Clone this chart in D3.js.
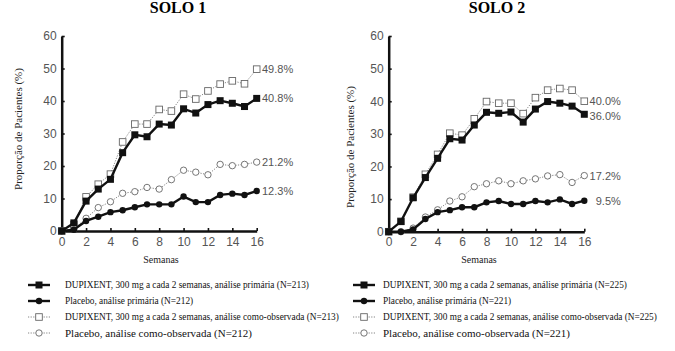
<!DOCTYPE html>
<html>
<head>
<meta charset="utf-8">
<script src="https://cdn.jsdelivr.net/npm/d3@7"></script>
<style>
  body { margin: 0; background: #fff; }
  svg { display: block; }
  .tick text { font-family: "Liberation Sans", Arial, sans-serif; font-size: 12px; fill: #555; }
  .title { font-family: "Liberation Serif", "Times New Roman", serif; font-weight: bold; font-size: 16px; }
  .axis-label { font-family: "Liberation Serif", "Times New Roman", serif; font-size: 11px; fill: #222; }
  .end-label { font-family: "Liberation Sans", Arial, sans-serif; font-size: 11px; fill: #555; }
  .legend-text { font-family: "Liberation Serif", "Times New Roman", serif; font-size: 9.3px; fill: #111; }
</style>
</head>
<body>
<div id="chart"></div>
<script>
var weeks = [0, 1, 2, 3, 4, 5, 6, 7, 8, 9, 10, 11, 12, 13, 14, 15, 16];
var xTicks = [0, 2, 4, 6, 8, 10, 12, 14, 16];
var yTicks = [0, 10, 20, 30, 40, 50, 60];

var solo1DupiPrimary  = [0, 2.5, 9.2, 12.9, 15.9, 24.1, 29.6, 29.0, 32.9, 32.6, 37.6, 36.3, 38.9, 40.1, 39.3, 38.3, 40.8];
var solo1PlacPrimary  = [0, 0.4, 3.1, 4.4, 5.8, 6.4, 7.3, 8.2, 8.2, 8.2, 10.6, 8.9, 8.9, 11.1, 11.5, 11.1, 12.3];
var solo1DupiObserved = [0, 2.0, 10.5, 14.4, 17.5, 27.4, 32.9, 32.9, 37.4, 36.9, 42.1, 40.6, 43.1, 45.2, 46.2, 45.3, 49.8];
var solo1PlacObserved = [0, 0.6, 3.9, 7.2, 9.0, 11.6, 12.1, 13.4, 12.9, 15.8, 18.7, 18.1, 17.3, 20.5, 20.1, 20.5, 21.2];

var solo2DupiPrimary  = [0, 3.1, 10.4, 16.6, 22.5, 28.5, 28.1, 32.7, 36.6, 36.3, 36.7, 33.6, 37.6, 39.9, 39.4, 38.5, 36.0];
var solo2PlacPrimary  = [0, 0, 0.7, 3.9, 6.0, 6.6, 7.5, 7.5, 9.0, 9.4, 8.5, 8.5, 9.4, 9.0, 9.9, 8.5, 9.5];
var solo2DupiObserved = [0, 3.2, 10.6, 17.6, 23.7, 30.2, 29.6, 34.6, 39.9, 39.4, 39.4, 36.2, 41.1, 43.4, 43.9, 43.4, 40.0];
var solo2PlacObserved = [0, 0, 1.1, 4.5, 6.7, 9.4, 10.7, 13.8, 14.7, 15.6, 14.7, 15.6, 16.2, 17.1, 17.5, 15.1, 17.2];

var solo1Legend = [
  "DUPIXENT, 300 mg a cada 2 semanas, análise primária (N=213)",
  "Placebo, análise primária (N=212)",
  "DUPIXENT, 300 mg a cada 2 semanas, análise como-observada (N=213)",
  "Placebo, análise como-observada (N=212)"
];
var solo2Legend = [
  "DUPIXENT, 300 mg a cada 2 semanas, análise primária (N=225)",
  "Placebo, análise primária (N=221)",
  "DUPIXENT, 300 mg a cada 2 semanas, análise como-observada (N=225)",
  "Placebo, análise como-observada (N=221)"
];

var width = 675, height = 351;

var svg = d3.select("#chart").append("svg")
  .attr("width", width)
  .attr("height", height);

// kind 0 = dupi primary, 1 = placebo primary, 2 = dupi observed, 3 = placebo observed
function drawMarker(g, kind, x, y) {
  if (kind === 0) {
    g.append("rect").attr("x", x - 3.5).attr("y", y - 3.5).attr("width", 7).attr("height", 7)
      .attr("fill", "#111");
  } else if (kind === 1) {
    g.append("circle").attr("cx", x).attr("cy", y).attr("r", 3.2).attr("fill", "#111");
  } else if (kind === 2) {
    g.append("rect").attr("x", x - 3.3).attr("y", y - 3.3).attr("width", 6.6).attr("height", 6.6)
      .attr("fill", "#fff").attr("stroke", "#666").attr("stroke-width", 0.9);
  } else {
    g.append("circle").attr("cx", x).attr("cy", y).attr("r", 3.2)
      .attr("fill", "#fff").attr("stroke", "#666").attr("stroke-width", 0.9);
  }
}

function lineStyle(sel, kind) {
  if (kind < 2) {
    sel.attr("stroke", "#111").attr("stroke-width", 2.4);
  } else {
    sel.attr("stroke", "#777").attr("stroke-width", 0.9).attr("stroke-dasharray", "1.2,1.4");
  }
  return sel;
}

function panel(cfg) {
  var x = d3.scaleLinear().domain([0, 16]).range([cfg.left, cfg.right]);
  var y = d3.scaleLinear().domain([0, 60]).range([cfg.bottom, cfg.top]);
  var g = svg.append("g");

  g.append("text").attr("class", "title")
    .attr("x", cfg.titleX).attr("y", 13)
    .attr("text-anchor", "middle")
    .text(cfg.title);

  var yAxis = g.append("g")
    .attr("transform", "translate(" + cfg.left + ",0)")
    .call(d3.axisLeft(y).tickValues(yTicks).tickSizeInner(-3).tickSizeOuter(0).tickPadding(5));
  yAxis.select(".domain").attr("stroke", "#111").attr("stroke-width", 2.5);
  yAxis.selectAll(".tick line").attr("stroke", "#111").attr("stroke-width", 1.6);

  var xAxis = g.append("g")
    .attr("transform", "translate(0," + cfg.bottom + ")")
    .call(d3.axisBottom(x).tickValues(xTicks).tickSizeInner(-3).tickSizeOuter(0).tickPadding(6));
  xAxis.select(".domain").attr("stroke", "#111").attr("stroke-width", 2.5);
  xAxis.selectAll(".tick line").attr("stroke", "#111").attr("stroke-width", 1.6);

  g.append("text").attr("class", "axis-label")
    .attr("transform", "translate(" + cfg.yLabelX + "," + cfg.yLabelY + ") rotate(-90)")
    .attr("text-anchor", "middle")
    .attr("dy", "0.35em")
    .text("Proporção de Pacientes (%)");

  g.append("text").attr("class", "axis-label")
    .attr("x", cfg.xLabelX).attr("y", 263)
    .attr("text-anchor", "middle")
    .style("font-size", "10px")
    .text("Semanas");

  var line = d3.line()
    .x(function (d, i) { return x(weeks[i]); })
    .y(function (d) { return y(d); });

  // as-observed first, primary on top
  [3, 2, 1, 0].forEach(function (kind) {
    var values = cfg.series[kind];
    var lg = g.append("g");
    lineStyle(lg.append("path").attr("d", line(values)).attr("fill", "none"), kind);
    values.forEach(function (v, i) {
      drawMarker(lg, kind, x(weeks[i]), y(v));
    });
    g.append("text").attr("class", "end-label")
      .attr("x", x(16) + 36.5)
      .attr("y", y(values[values.length - 1]) + (cfg.labelShift[kind] || 0))
      .attr("dy", "0.36em")
      .attr("text-anchor", "end")
      .text(values[values.length - 1].toFixed(1) + "%");
  });

  // legend
  var rowY = [285, 301, 317, 333];
  [0, 1, 2, 3].forEach(function (kind, i) {
    var lg = g.append("g");
    var x0 = cfg.legendX, x1 = cfg.legendX + 22, cy = rowY[i];
    lineStyle(lg.append("line").attr("x1", x0).attr("x2", x1).attr("y1", cy).attr("y2", cy), kind);
    drawMarker(lg, kind, (x0 + x1) / 2, cy);
    lg.append("text").attr("class", "legend-text")
      .attr("x", cfg.legendTextX).attr("y", cy).attr("dy", "0.35em")
      .style("font-size", i === 3 ? "11px" : null)
      .text(cfg.legend[i]);
  });
}

panel({
  title: "SOLO 1", titleX: 178,
  left: 61.7, right: 256.7, top: 36, bottom: 231,
  yLabelX: 18, yLabelY: 129, xLabelX: 161,
  series: [solo1DupiPrimary, solo1PlacPrimary, solo1DupiObserved, solo1PlacObserved],
  labelShift: {},
  legend: solo1Legend, legendX: 28, legendTextX: 65
});

panel({
  title: "SOLO 2", titleX: 497,
  left: 388.7, right: 584.3, top: 36, bottom: 231.7,
  yLabelX: 350, yLabelY: 147, xLabelX: 479,
  series: [solo2DupiPrimary, solo2PlacPrimary, solo2DupiObserved, solo2PlacObserved],
  labelShift: { 0: 2 },
  legend: solo2Legend, legendX: 353, legendTextX: 383
});
</script>
</body>
</html>
